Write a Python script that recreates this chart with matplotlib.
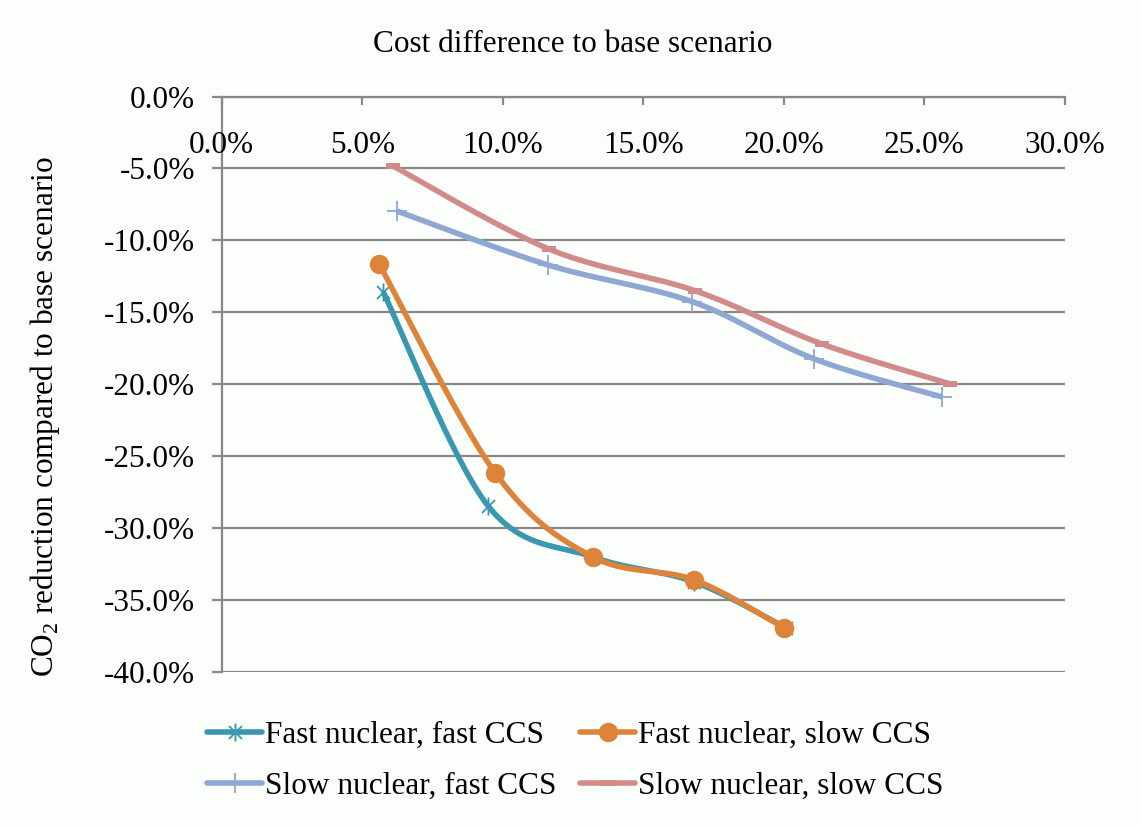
import numpy as np
import matplotlib
matplotlib.use("Agg")
import matplotlib.pyplot as plt
from matplotlib.lines import Line2D
from matplotlib.path import Path
from matplotlib.transforms import offset_copy

plt.rcParams['font.family'] = ['Liberation Serif', 'DejaVu Serif']
plt.rcParams['mathtext.fontset'] = 'custom'
plt.rcParams['mathtext.rm'] = 'Liberation Serif'

# Cost difference (%) vs CO2 reduction (%) per scenario
fnfc_cost = [5.74, 9.47, 13.2, 16.81, 20.08]
fnfc_co2 = [-13.56, -28.44, -32.0, -33.74, -36.94]

fnsc_cost = [5.6, 9.73, 13.2, 16.81, 20.01]
fnsc_co2 = [-11.64, -26.16, -32.0, -33.6, -36.94]

snfc_cost = [6.23, 11.61, 16.74, 21.08, 25.62]
snfc_co2 = [-7.96, -11.71, -14.26, -18.24, -20.88]

snsc_cost = [6.09, 11.64, 16.84, 21.35, 25.92]
snsc_co2 = [-4.83, -10.6, -13.5, -17.2, -19.98]

series_names = ["Fast nuclear, fast CCS", "Fast nuclear, slow CCS",
                "Slow nuclear, fast CCS", "Slow nuclear, slow CCS"]

x_ticks = [0, 5, 10, 15, 20, 25, 30]
y_ticks = [0, -5, -10, -15, -20, -25, -30, -35, -40]

FS = 22.5
GRID = '#888888'


def smooth(xs, ys, n=40):
    """Cubic Bezier smoothing through the points (Catmull-Rom style)."""
    P = np.column_stack([xs, ys]).astype(float)
    out = []
    t = np.linspace(0, 1, n)[:, None]
    for i in range(len(P) - 1):
        p0 = P[i - 1] if i > 0 else P[i]
        p1, p2 = P[i], P[i + 1]
        p3 = P[i + 2] if i + 2 < len(P) else P[i + 1]
        c1 = p1 + (p2 - p0) / 6.0
        c2 = p2 - (p3 - p1) / 6.0
        seg = ((1 - t) ** 3) * p1 + 3 * ((1 - t) ** 2) * t * c1 \
            + 3 * (1 - t) * (t ** 2) * c2 + (t ** 3) * p2
        out.append(seg if i == 0 else seg[1:])
    return np.vstack(out)


star = [(0, -1), (0, 1), (-0.72, -0.72), (0.72, 0.72), (-0.72, 0.72), (0.72, -0.72)]
star_path = Path(star, [Path.MOVETO, Path.LINETO, Path.MOVETO, Path.LINETO,
                        Path.MOVETO, Path.LINETO])
dash_marker = [(-1, -0.42), (1, -0.42), (1, 0.42), (-1, 0.42), (-1, -0.42)]

styles = [
    dict(color='#3A97B1', marker=star_path, ms=13, mew=1.3, mfc='none'),
    dict(color='#DE843A', marker='o', ms=14, mew=0, mfc='#DE843A'),
    dict(color='#8EA8D3', marker='+', ms=15, mew=1.3, mfc='none'),
    dict(color='#D18C8A', marker=dash_marker, ms=10, mew=0, mfc='#D18C8A'),
]
data = [(fnfc_cost, fnfc_co2), (fnsc_cost, fnsc_co2),
        (snfc_cost, snfc_co2), (snsc_cost, snsc_co2)]

fig = plt.figure(figsize=(11.41, 8.27), dpi=100)
fig.patch.set_facecolor('#FCFEFC')
ax = fig.add_axes([221.7 / 1141, 1 - 672 / 827, (1065 - 221.7) / 1141, (672 - 96.5) / 827])
ax.set_facecolor('none')

LW = 4.0
handles = []
for (xs, ys), st, name in zip(data, styles, series_names):
    curve = smooth(xs, ys)
    ax.plot(curve[:, 0], curve[:, 1], color=st['color'], lw=LW,
            solid_capstyle='butt', zorder=3)
    ax.plot(xs, ys, ls='none', marker=st['marker'], ms=st['ms'],
            mew=st['mew'], mec=st['color'], mfc=st['mfc'], zorder=3)
    handles.append(Line2D([], [], color=st['color'], lw=LW, marker=st['marker'],
                          ms=st['ms'], mew=st['mew'], mec=st['color'],
                          mfc=st['mfc'], solid_capstyle='round', label=name))

ax.set_xlim(0, 30)
ax.set_ylim(-40, 0)

# horizontal gridlines
ax.set_yticks(y_ticks)
ax.set_yticklabels([f"{v:.1f}%" for v in y_ticks], fontsize=FS)
ax.yaxis.grid(True, color=GRID, lw=1.6, zorder=1)
ax.set_axisbelow(True)
ax.tick_params(axis='y', direction='out', length=7, width=1.6, color=GRID,
               pad=12)

# x axis runs along the 0% line at the top, with labels beneath it
ax.set_xticks(x_ticks)
ax.tick_params(axis='x', bottom=False, top=True, labelbottom=False,
               labeltop=False, direction='in', length=6, width=1.6, color=GRID)
lab_tr = offset_copy(ax.transData, fig=fig, x=0, y=-56.5, units='dots')
for v in x_ticks:
    ax.text(v, 0, f"{v:.1f}%", transform=lab_tr, ha='center', va='baseline',
            fontsize=FS)

for side in ['right', 'bottom']:
    ax.spines[side].set_visible(False)
for side in ['top', 'left']:
    ax.spines[side].set_color(GRID)
    ax.spines[side].set_linewidth(1.6)

fig.text(573 / 1141, 1 - 52.5 / 827, "Cost difference to base scenario",
         ha='center', va='baseline', fontsize=FS)
fig.text(45 / 1141, 1 - 417 / 827,
         r"CO$_\mathregular{2}$ reduction compared to base scenario",
         rotation=90, ha='center', va='center', fontsize=FS)

# legend filled row by row
order = [0, 2, 1, 3]
fig.legend(handles=[handles[i] for i in order], ncol=2, loc='center',
           bbox_to_anchor=(575.5 / 1141, 1 - 760.5 / 827), frameon=False,
           fontsize=FS, handlelength=1.75, handletextpad=0.1,
           columnspacing=0.75, labelspacing=0.7, borderpad=0,
           borderaxespad=0, numpoints=1)

fig.savefig("out.png", dpi=100, facecolor=fig.get_facecolor())
